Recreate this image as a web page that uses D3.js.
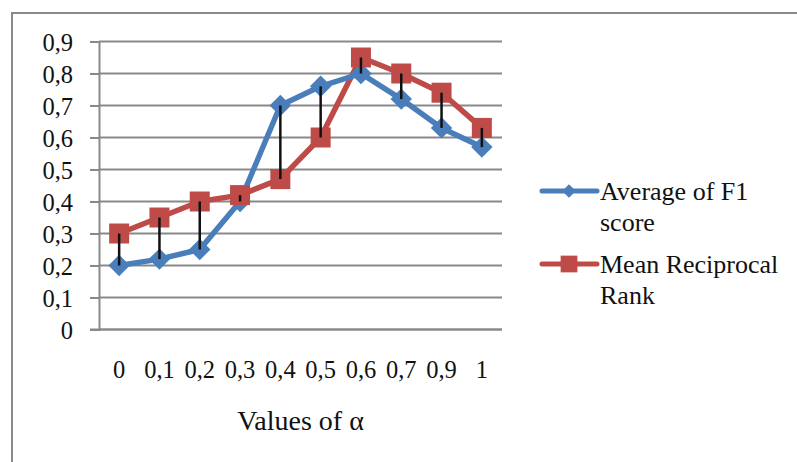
<!DOCTYPE html>
<html>
<head>
<meta charset="utf-8">
<script src="https://cdn.jsdelivr.net/npm/d3@7"></script>
<style>
  html, body { margin: 0; padding: 0; background: #fff; }
  svg { display: block; }
  text { font-family: "Liberation Serif", "Times New Roman", serif; fill: #111; }
</style>
</head>
<body>
<div id="chart"></div>
<script>
// data
const alphas = ["0", "0,1", "0,2", "0,3", "0,4", "0,5", "0,6", "0,7", "0,9", "1"];
const f1Scores = [0.2, 0.22, 0.25, 0.4, 0.7, 0.76, 0.8, 0.72, 0.63, 0.57];
const mrrScores = [0.3, 0.35, 0.4, 0.42, 0.47, 0.6, 0.85, 0.8, 0.74, 0.63];
const yTicks = [0, 0.1, 0.2, 0.3, 0.4, 0.5, 0.6, 0.7, 0.8, 0.9];

const width = 797;
const height = 462;
const plot = { left: 99, right: 502, top: 41.5, bottom: 329.5 };

const blue = "#4a7ebb";
const red = "#be4b48";
const grey = "#898989";

const svg = d3
  .select("#chart")
  .append("svg")
  .attr("width", width)
  .attr("height", height);

// outer frame (cut off at right and bottom)
svg
  .append("rect")
  .attr("x", 12)
  .attr("y", 13)
  .attr("width", 900)
  .attr("height", 600)
  .attr("fill", "none")
  .attr("stroke", grey)
  .attr("stroke-width", 2);

// scales
const xScale = d3
  .scaleBand()
  .domain(alphas)
  .range([plot.left, plot.right])
  .padding(0);

const yScale = d3
  .scaleLinear()
  .domain([0, 0.9])
  .range([plot.bottom, plot.top]);

const cx = (d) => xScale(d) + xScale.bandwidth() / 2;

// gridlines
svg
  .append("g")
  .selectAll("line")
  .data(yTicks)
  .enter()
  .append("line")
  .attr("x1", plot.left)
  .attr("x2", plot.right)
  .attr("y1", (d) => yScale(d))
  .attr("y2", (d) => yScale(d))
  .attr("stroke", grey)
  .attr("stroke-width", 2);

// y axis
const yAxis = d3
  .axisLeft(yScale)
  .tickValues(yTicks)
  .tickSize(9)
  .tickPadding(17)
  .tickFormat((d) => (d === 0 ? "0" : d3.format(".1f")(d).replace(".", ",")));

const yAxisG = svg
  .append("g")
  .attr("transform", `translate(${plot.left}, 0)`)
  .call(yAxis);
yAxisG.select(".domain").attr("stroke", grey).attr("stroke-width", 2);
yAxisG.selectAll(".tick line").attr("stroke", grey).attr("stroke-width", 2);
yAxisG
  .selectAll(".tick text")
  .attr("font-size", 24.5)
  .attr("fill", "#111")
  .attr("dy", "0.36em")
  .style("font-family", "Liberation Serif");

// x axis (labels only, no tick marks)
const xAxis = d3.axisBottom(xScale).tickSize(0).tickPadding(31);
const xAxisG = svg
  .append("g")
  .attr("transform", `translate(0, ${plot.bottom})`)
  .call(xAxis);
xAxisG.select(".domain").remove();
xAxisG
  .selectAll(".tick text")
  .attr("font-size", 24.5)
  .attr("fill", "#111")
  .style("font-family", "Liberation Serif");

svg
  .append("line")
  .attr("x1", plot.left - 9)
  .attr("x2", plot.right)
  .attr("y1", plot.bottom)
  .attr("y2", plot.bottom)
  .attr("stroke", grey)
  .attr("stroke-width", 2);

// axis title
svg
  .append("text")
  .attr("x", (plot.left + plot.right) / 2)
  .attr("y", 430)
  .attr("text-anchor", "middle")
  .attr("font-size", 28)
  .text("Values of \u03b1");

// series lines
const line = (values) =>
  d3
    .line()
    .x((d, i) => cx(alphas[i]))
    .y((d) => yScale(d))(values);

svg
  .append("path")
  .attr("d", line(mrrScores))
  .attr("fill", "none")
  .attr("stroke", red)
  .attr("stroke-width", 5.5)
  .attr("stroke-linejoin", "round");

svg
  .append("path")
  .attr("d", line(f1Scores))
  .attr("fill", "none")
  .attr("stroke", blue)
  .attr("stroke-width", 5.5)
  .attr("stroke-linejoin", "round");

// markers: diamond = square turned 45 degrees
const diamond = d3.symbol().type(d3.symbolSquare).size(230);
const square = d3.symbol().type(d3.symbolSquare).size(400);

svg
  .append("g")
  .selectAll("path")
  .data(f1Scores)
  .enter()
  .append("path")
  .attr("d", diamond)
  .attr("transform", (d, i) => `translate(${cx(alphas[i])}, ${yScale(d)}) rotate(45)`)
  .attr("fill", blue);

svg
  .append("g")
  .selectAll("path")
  .data(mrrScores)
  .enter()
  .append("path")
  .attr("d", square)
  .attr("transform", (d, i) => `translate(${cx(alphas[i])}, ${yScale(d)})`)
  .attr("fill", red);

// high-low lines between the two series
svg
  .append("g")
  .selectAll("line")
  .data(alphas)
  .enter()
  .append("line")
  .attr("x1", (d) => cx(d))
  .attr("x2", (d) => cx(d))
  .attr("y1", (d, i) => yScale(Math.max(f1Scores[i], mrrScores[i])))
  .attr("y2", (d, i) => yScale(Math.min(f1Scores[i], mrrScores[i])))
  .attr("stroke", "#111")
  .attr("stroke-width", 2.5);

// legend
const legendItems = [
  { color: blue, marker: d3.symbol().type(d3.symbolSquare).size(90), rot: 45, lines: ["Average of F1", "score"], y: 191 },
  { color: red, marker: d3.symbol().type(d3.symbolSquare).size(280), rot: 0, lines: ["Mean Reciprocal", "Rank"], y: 264 },
];

legendItems.forEach((item) => {
  const g = svg.append("g");
  g.append("line")
    .attr("x1", 542)
    .attr("x2", 597)
    .attr("y1", item.y)
    .attr("y2", item.y)
    .attr("stroke", item.color)
    .attr("stroke-width", 5)
    .attr("stroke-linecap", "round");
  g.append("path")
    .attr("d", item.marker)
    .attr("transform", `translate(569, ${item.y}) rotate(${item.rot})`)
    .attr("fill", item.color);
  item.lines.forEach((t, k) => {
    g.append("text")
      .attr("x", 600)
      .attr("y", item.y + 8.5 + k * 31)
      .attr("font-size", 26)
      .text(t);
  });
});
</script>
</body>
</html>
